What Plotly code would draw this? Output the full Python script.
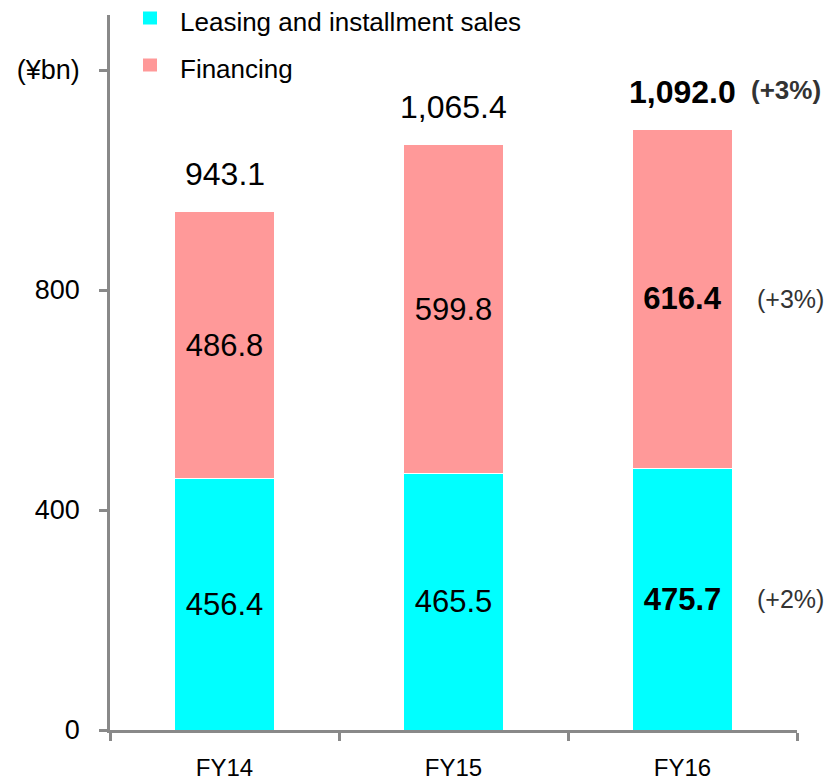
import plotly.graph_objects as go

categories = ["FY14", "FY15", "FY16"]
leasing = [456.4, 465.5, 475.7]
financing = [486.8, 599.8, 616.4]
totals = [943.1, 1065.4, 1092.0]
highlight = [False, False, True]
total_growth = ["", "", "(+3%)"]
leasing_growth = "(+2%)"
financing_growth = "(+3%)"
y_tickvals = [0, 400, 800, 1200]
y_ticktext = ["0", "400", "800", "(¥bn)"]
series_names = ["Leasing and installment sales", "Financing"]
series_colors = ["#00FFFF", "#FF9999"]

FONT = "Liberation Sans, Arial, sans-serif"
AXIS_GRAY = "#898989"

W, H = 829, 781
ML, MR, MT, MB = 110, 32, 15, 51
PW, PH = W - ML - MR, H - MT - MB


def px_x(p):
    return (p - ML) / PW


def px_y(p):
    return (H - MB - p) / PH


def fmt(v, bold):
    s = f"{v:,.1f}"
    return f"<b>{s}</b>" if bold else s


fig = go.Figure()
for vals, name, color in zip([leasing, financing], series_names, series_colors):
    fig.add_trace(go.Bar(
        x=categories, y=vals, name=name,
        marker=dict(color=color, line=dict(color="white", width=1)),
        text=[fmt(v, b) for v, b in zip(vals, highlight)],
        textposition="inside", insidetextanchor="middle", textangle=0,
        textfont=dict(size=31, color="black", family=FONT),
        width=0.44, hoverinfo="skip", showlegend=False,
    ))

annotations = []
shapes = []
for c, t, b, g in zip(categories, totals, highlight, total_growth):
    annotations.append(dict(
        x=c, y=t, xref="x", yref="y", text=fmt(t, b), showarrow=False,
        xanchor="center", yanchor="middle", yshift=37,
        font=dict(size=32, color="black", family=FONT),
    ))
    if g:
        annotations.append(dict(
            x=c, y=t, xref="x", yref="y", text=f"<b>{g}</b>", showarrow=False,
            xanchor="left", yanchor="middle", yshift=39, xshift=66,
            font=dict(size=26, color="#333333", family=FONT),
        ))

last = len(categories) - 1
annotations.append(dict(
    x=categories[last], y=leasing[last] / 2, xref="x", yref="y",
    text=leasing_growth, showarrow=False, xanchor="center", yanchor="middle",
    xshift=108, font=dict(size=25, color="#333333", family=FONT),
))
annotations.append(dict(
    x=categories[last], y=leasing[last] + financing[last] / 2, xref="x", yref="y",
    text=financing_growth, showarrow=False, xanchor="center", yanchor="middle",
    xshift=108, font=dict(size=25, color="#333333", family=FONT),
))

# legend drawn as swatches + text
legend_rows = [18, 65]
for row_y, name, color in zip(legend_rows, series_names, series_colors):
    shapes.append(dict(
        type="rect", xref="paper", yref="paper",
        x0=px_x(143), x1=px_x(157), y0=px_y(row_y + 6.5), y1=px_y(row_y - 6.5),
        fillcolor=color, line=dict(width=0),
    ))
    annotations.append(dict(
        x=px_x(178), y=px_y(row_y + 4), xref="paper", yref="paper",
        text=name, showarrow=False, xanchor="left", yanchor="middle",
        font=dict(size=26, color="black", family=FONT),
    ))

fig.update_layout(
    width=W, height=H,
    margin=dict(l=ML, r=MR, t=MT, b=MB),
    barmode="stack",
    plot_bgcolor="white", paper_bgcolor="white",
    font=dict(family=FONT, color="black"),
    showlegend=False,
    annotations=annotations,
    shapes=shapes,
    xaxis=dict(
        range=[-0.5, len(categories) - 0.5],
        showline=True, linecolor=AXIS_GRAY, linewidth=2.5,
        ticks="outside", tickson="boundaries", ticklen=8,
        tickcolor=AXIS_GRAY, tickwidth=2.5,
        tickfont=dict(size=24, family=FONT, color="black"),
        ticklabelstandoff=14, automargin=False,
        showgrid=False, zeroline=False,
    ),
    yaxis=dict(
        range=[0, 1300], showline=True, linecolor=AXIS_GRAY, linewidth=2.5,
        ticks="outside", ticklen=8, tickcolor=AXIS_GRAY, tickwidth=2.5,
        tickvals=y_tickvals, ticktext=y_ticktext,
        tickfont=dict(size=27, family=FONT, color="black"),
        ticklabelstandoff=14, automargin=False,
        showgrid=False, zeroline=False,
    ),
)

fig.write_html("out.html")
